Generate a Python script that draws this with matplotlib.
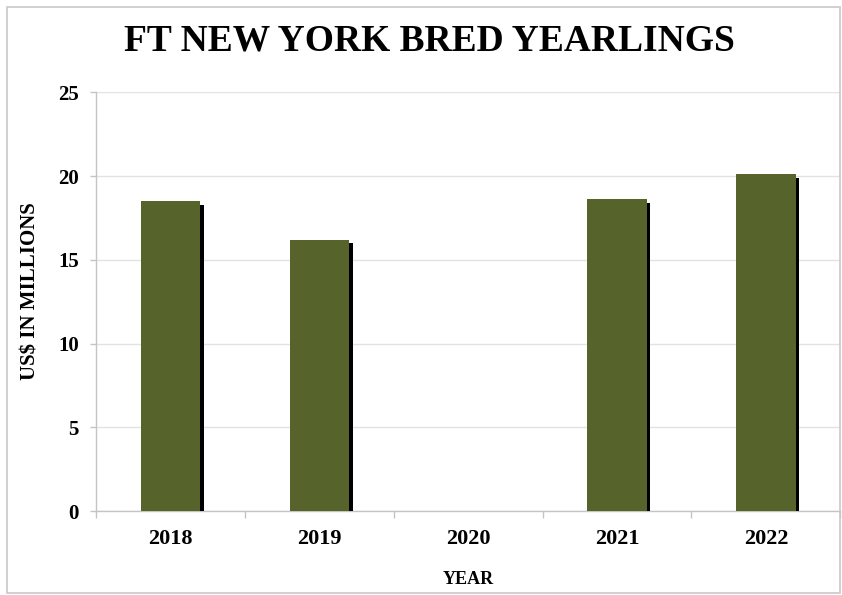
import matplotlib.pyplot as plt
import matplotlib.patheffects as pe
from matplotlib.patches import Rectangle

years = ['2018', '2019', '2020', '2021', '2022']
sales = [18.5, 16.2, 0, 18.6, 20.1]

BAR_COLOR = '#56632a'
GRID_COLOR = '#e2e2e2'
SERIF = ['Liberation Serif', 'DejaVu Serif']

fig = plt.figure(figsize=(8.42, 5.95), dpi=100)
fig.patches.append(Rectangle((0.008, 0.003), 0.99, 0.985, transform=fig.transFigure,
                             fill=False, edgecolor='#c8c8c8', linewidth=1.2))
ax = fig.add_axes([0.114, 0.141, 0.884, 0.704])

x = list(range(len(years)))
bars = ax.bar(x, sales, width=0.4, color=BAR_COLOR, zorder=3)
for b in bars:
    b.set_path_effects([pe.SimplePatchShadow(offset=(2.6, -2.6), shadow_rgbFace='black', alpha=1.0),
                        pe.Normal()])

ax.set_xlim(-0.5, len(years) - 0.5)
ax.set_ylim(0, 25)
ax.set_yticks([0, 5, 10, 15, 20, 25])
ax.yaxis.grid(True, color=GRID_COLOR, linewidth=1.0, zorder=0)
ax.set_axisbelow(True)

ax.set_xticks(x)
ax.set_xticklabels(years)
ax.set_xticks([i - 0.5 for i in range(len(years) + 1)], minor=True)
ax.tick_params(axis='x', which='major', length=0, pad=13)
ax.tick_params(axis='x', which='minor', length=5, color='#c4c4c4', width=1)
ax.tick_params(axis='y', length=4.5, color='#c4c4c4', width=1, pad=8)

for lbl in ax.get_xticklabels():
    lbl.set_fontfamily(SERIF)
    lbl.set_fontweight('bold')
    lbl.set_fontsize(16)
for lbl in ax.get_yticklabels():
    lbl.set_fontfamily(SERIF)
    lbl.set_fontweight('bold')
    lbl.set_fontsize(15)

for side in ['top', 'right']:
    ax.spines[side].set_visible(False)
for side in ['left', 'bottom']:
    ax.spines[side].set_color('#c4c4c4')
    ax.spines[side].set_linewidth(1)

ax.set_ylabel('US$ IN MILLIONS', fontfamily=SERIF, fontweight='bold', fontsize=15)
ax.yaxis.set_label_coords(-0.075, 0.525)
ax.set_xlabel('YEAR', fontfamily=SERIF, fontweight='bold', fontsize=13, labelpad=16)
fig.text(0.51, 0.931, 'FT NEW YORK BRED YEARLINGS', ha='center', va='center',
         fontfamily=SERIF, fontweight='bold', fontsize=27)

fig.savefig('out.png', dpi=100)
